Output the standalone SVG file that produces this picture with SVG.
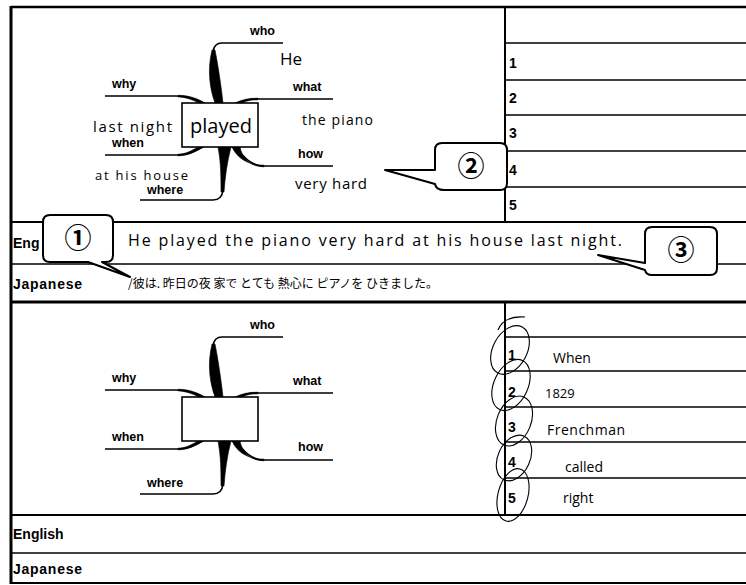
<svg xmlns="http://www.w3.org/2000/svg" xmlns:xlink="http://www.w3.org/1999/xlink" width="746" height="585" viewBox="0 0 746 585">
<style>
.lbl{font-family:"Liberation Sans",Arial,sans-serif;font-weight:bold;font-size:12.5px;fill:#000}
.row{font-family:"Liberation Sans",Arial,sans-serif;font-weight:bold;font-size:14px;fill:#000}
.num{font-family:"Liberation Sans",Arial,sans-serif;font-weight:bold;font-size:14px;fill:#000}
.hw{font-family:"Open Sans","DejaVu Sans",sans-serif;font-weight:400;fill:#000}
.jp{font-family:"Noto Sans CJK JP",sans-serif;font-weight:400;font-size:12px;fill:#000}
.thin{fill:none;stroke:#000;stroke-width:1.6}
.thick{fill:#000;stroke:#000;stroke-width:0.6}
.box{fill:#fff;stroke:#000;stroke-width:1.6}
.frame{stroke:#000;fill:none}
.call{fill:#fff;stroke:#000;stroke-width:2;stroke-linejoin:round}
.cnum{font-family:"Noto Sans CJK JP","DejaVu Sans",sans-serif;font-weight:bold;font-size:27px;fill:#000}
.loop{fill:none;stroke:#000;stroke-width:1.1}
</style>
<defs>
<g id="branchset">
<path class="thin" d="M283,43 H222 Q214,43 213,52"/>
<path class="thin" d="M105,96 H176 C188,96 196,99 203,103"/>
<path class="thin" d="M333,99 H258 C250,99 244,100 239,103"/>
<path class="thin" d="M105,155 H178 C189,155 196,151 202,147"/>
<path class="thin" d="M333,166 H264 C252,166 244,158 236,147"/>
<path class="thin" d="M140,200 H213 Q222,200 223,190"/>
<path class="thick" d="M212,50 C207,70 210,90 215,103 L223,103 C221,85 218,65 215,50 Z"/>
<path class="thick" d="M218,147 C221,162 221,178 221,192 L224,192 C225,178 227,162 231,147 Z"/>
<path class="thick" d="M178,95.3 C189,95.3 197,98.5 205,103 L199,103 C192,99.5 186,97.3 178,96.8 Z"/>
<path class="thick" d="M258,98.2 C249,98.2 242,99.5 235,103 L242,103 C247,100.5 252,99.8 258,99.8 Z"/>
<path class="thick" d="M178,155.8 C189,155.8 196,151 204,147 L198,147 C191,151 186,154 178,154.2 Z"/>
<path class="thick" d="M264,166.8 C250,166.8 242,158 240,147 L232,147 C237,158 248,165.5 264,165.2 Z"/>
</g>
</defs>

<rect width="746" height="585" fill="#fff"/>

<g id="frame">
<path class="frame" stroke-width="2.5" d="M11,7 H746"/>
<path class="frame" stroke-width="3" d="M11,6 V584"/>
<path class="frame" stroke-width="2" d="M11,583 H746"/>
<path class="frame" stroke-width="2" d="M11,222 H746"/>
<path class="frame" stroke-width="1.5" d="M11,264 H746"/>
<path class="frame" stroke-width="3" d="M11,302 H746"/>
<path class="frame" stroke-width="2" d="M11,515 H746"/>
<path class="frame" stroke-width="1.5" d="M11,553 H746"/>
<path class="frame" stroke-width="2" d="M505,7 V222"/>
<path class="frame" stroke-width="2" d="M505,302 V515"/>
<g stroke-width="1.4" class="frame">
<path d="M505,43 H746"/><path d="M505,80 H746"/><path d="M505,115 H746"/><path d="M505,151 H746"/><path d="M505,187 H746"/>
<path d="M505,337 H746"/><path d="M505,371 H746"/><path d="M505,407 H746"/><path d="M505,442 H746"/><path d="M505,478 H746"/>
</g>
</g>

<g id="connectors">
<use xlink:href="#branchset"/>
<use xlink:href="#branchset" transform="translate(0,294)"/>
</g>

<g id="map1">
<g id="map1-center"><rect class="box" x="182" y="103" width="76" height="44"/><text class="hw" x="190" y="133" font-size="20">played</text></g>
<g id="map1-who"><text class="lbl" x="250" y="35">who</text><text class="hw" x="280" y="65" font-size="17">He</text></g>
<g id="map1-why"><text class="lbl" x="112" y="88">why</text></g>
<g id="map1-what"><text class="lbl" x="293" y="91">what</text><text class="hw" x="302" y="125" font-size="14" textLength="71">the piano</text></g>
<g id="map1-when"><text class="lbl" x="112" y="147">when</text><text class="hw" x="93" y="132" font-size="15" textLength="79">last night</text></g>
<g id="map1-how"><text class="lbl" x="298" y="158">how</text><text class="hw" x="295" y="189" font-size="15" textLength="72">very hard</text></g>
<g id="map1-where"><text class="lbl" x="147" y="194">where</text><text class="hw" x="95" y="180" font-size="13" textLength="93">at his house</text></g>
</g>

<g id="answers1">
<text class="num" x="509" y="68">1</text>
<text class="num" x="509" y="103">2</text>
<text class="num" x="509" y="138">3</text>
<text class="num" x="509" y="175">4</text>
<text class="num" x="509" y="210">5</text>
</g>

<g id="sentence1">
<text class="row" x="13" y="248">Eng</text>
<text class="hw" x="128" y="246" font-size="16" textLength="494">He played the piano very hard at his house last night.</text>
<text class="row" x="13" y="289" textLength="69">Japanese</text>
<text class="jp" x="128" y="288" textLength="310">/彼は. 昨日の夜 家で とても 熱心に ピアノを ひきました。</text>
</g>

<g id="map2">
<g id="map2-center"><rect class="box" x="182" y="397" width="76" height="44"/></g>
<g id="map2-who"><text class="lbl" x="250" y="329">who</text></g>
<g id="map2-why"><text class="lbl" x="112" y="382">why</text></g>
<g id="map2-what"><text class="lbl" x="293" y="385">what</text></g>
<g id="map2-when"><text class="lbl" x="112" y="441">when</text></g>
<g id="map2-how"><text class="lbl" x="298" y="451">how</text></g>
<g id="map2-where"><text class="lbl" x="147" y="487">where</text></g>
</g>

<g id="answers2">
<text class="num" x="508" y="360">1</text>
<text class="num" x="508" y="397">2</text>
<text class="num" x="508" y="432">3</text>
<text class="num" x="508" y="467">4</text>
<text class="num" x="508" y="503">5</text>
<text class="hw" x="553" y="363" font-size="14">When</text>
<text class="hw" x="545" y="398" font-size="13">1829</text>
<text class="hw" x="547" y="435" font-size="14" textLength="78">Frenchman</text>
<text class="hw" x="565" y="472" font-size="14">called</text>
<text class="hw" x="563" y="503" font-size="14">right</text>
<g id="loops">
<ellipse class="loop" cx="510" cy="350" rx="17" ry="26" transform="rotate(28 510 350)"/>
<path class="loop" d="M498,330 C502,320 512,316 525,317"/>
<ellipse class="loop" cx="511" cy="385" rx="17" ry="27" transform="rotate(25 511 385)"/>
<ellipse class="loop" cx="514" cy="421" rx="17" ry="26" transform="rotate(22 514 421)"/>
<ellipse class="loop" cx="514" cy="458" rx="16" ry="24" transform="rotate(25 514 458)"/>
<ellipse class="loop" cx="513" cy="495" rx="15" ry="27" transform="rotate(15 513 495)"/>
</g>
</g>

<g id="sentence2">
<text class="row" x="13" y="539">English</text>
<text class="row" x="13" y="574" textLength="69">Japanese</text>
</g>

<g id="callout1">
<path class="call" d="M50,215 H106 Q113,215 113,222 V255 Q113,262 106,262 H102 L130,277 L88,262 H50 Q43,262 43,255 V222 Q43,215 50,215 Z"/>
<text class="cnum" x="78" y="248" text-anchor="middle">①</text>
</g>
<g id="callout2">
<path class="call" d="M442,143 H500 Q507,143 507,150 V183 Q507,190 500,190 H444 Q436,190 435,184 L385,170 L435,170 V150 Q435,143 442,143 Z"/>
<text class="cnum" x="471" y="176" text-anchor="middle">②</text>
</g>
<g id="callout3">
<path class="call" d="M652,227 H710 Q717,227 717,234 V268 Q717,275 710,275 H652 Q646,275 645,270 L598,255 L645,263 V234 Q645,227 652,227 Z"/>
<text class="cnum" x="681" y="260" text-anchor="middle">③</text>
</g>
</svg>
